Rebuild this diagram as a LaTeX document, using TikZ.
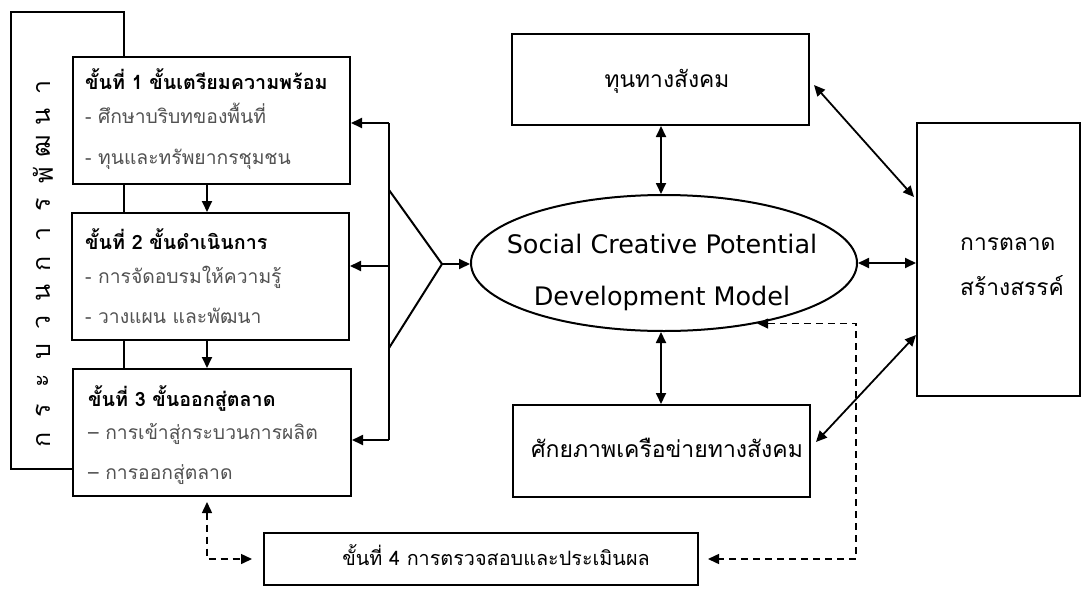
\documentclass[tikz,border=0pt]{standalone}
\usepackage{fontspec}
\setmainfont[Script=Thai]{Loma}
\newfontfamily\engfont{DejaVu Sans}
\usetikzlibrary{arrows.meta,shapes.geometric}
\begin{document}
\begin{tikzpicture}[x=1pt,y=-1pt,
  box/.style={draw,line width=2pt,fill=white,inner sep=0pt},
  tip/.tip={Triangle[length=11pt,width=10pt]},
  arr/.style={line width=1.8pt,-tip},
  darr/.style={line width=1.8pt,tip-tip},
  dsh/.style={line width=1.5pt,dash pattern=on 7pt off 5pt,tip-tip},
  head/.style={font=\bfseries\fontsize{19.7}{22}\selectfont,anchor=base west,inner sep=0pt},
  itm/.style={font=\fontsize{19.3}{22}\selectfont,text=black!68,anchor=base west,inner sep=0pt},
  lbl/.style={font=\fontsize{22.8}{26}\selectfont,inner sep=0pt,anchor=base},
  vert/.style={font=\fontsize{25}{28}\selectfont,rotate=90,inner sep=0pt},
  eng/.style={font=\engfont\fontsize{25.5}{28}\selectfont,inner sep=0pt,anchor=base},
]
\useasboundingbox (0,0) rectangle (1083,589);
% outer left frame
\node[box,minimum width=113pt,minimum height=457pt] (outer) at (67.5,240.5) {};
\foreach \c [count=\i] in {ก,ร,ะ,บ,ว,น,ก,า,ร,พั,ฒ,น,า}
  \node[vert] (v\i) at (43,{440-(\i-1)*29.4}) {\c};
% step boxes
\node[box,minimum width=277pt,minimum height=127pt] (s1) at (211.5,120.5) {};
\node[box,minimum width=277pt,minimum height=127pt] (s2) at (210.5,276.5) {};
\node[box,minimum width=278pt,minimum height=127pt] (s3) at (212,432.5) {};
\node[head] (s1h) at (85,89) {ขั้นที่ 1 ขั้นเตรียมความพร้อม};
\node[itm] (s1a) at (85,123) {- ศึกษาบริบทของพื้นที่};
\node[itm] (s1b) at (85,164) {- ทุนและทรัพยากรชุมชน};
\node[head] (s2h) at (85,249) {ขั้นที่ 2 ขั้นดำเนินการ};
\node[itm] (s2a) at (85,283) {- การจัดอบรมให้ความรู้};
\node[itm] (s2b) at (85,323) {- วางแผน และพัฒนา};
\node[head] (s3h) at (88,406) {ขั้นที่ 3 ขั้นออกสู่ตลาด};
\node[itm] (s3a) at (88,439) {– การเข้าสู่กระบวนการผลิต};
\node[itm] (s3b) at (88,479) {– การออกสู่ตลาด};
% central and right nodes
\node[draw,ellipse,line width=2pt,minimum width=386pt,minimum height=136pt,inner sep=0pt] (ell) at (664,263) {};
\node[eng] (e1) at (662,253) {Social Creative Potential};
\node[eng] (e2) at (662,305) {Development Model};
\node[box,minimum width=297pt,minimum height=91pt] (tb) at (660.5,79.5) {};
\node[lbl] (tbt) at (667,87) {ทุนทางสังคม};
\node[box,minimum width=297pt,minimum height=92pt] (bb) at (661.5,451) {};
\node[lbl,font=\fontsize{23}{26}\selectfont] (bbt) at (667,457) {ศักยภาพเครือข่ายทางสังคม};
\node[box,minimum width=163pt,minimum height=273pt] (mk) at (998.5,259.5) {};
\node[lbl,anchor=base west] (mk1) at (960,250) {การตลาด};
\node[lbl,anchor=base west] (mk2) at (960,295) {สร้างสรรค์};
\node[box,minimum width=434pt,minimum height=52pt] (b4) at (481,559) {};
\node[lbl,font=\fontsize{19.8}{22}\selectfont] (b4t) at (496,565) {ขั้นที่ 4 การตรวจสอบและประเมินผล};
% helper coordinates
\coordinate (ax) at (207,0);
\coordinate (cx) at (661,0);
\coordinate (dv) at (856,0);
\coordinate (q1) at (389,123);
\coordinate (q2) at (389,266);
\coordinate (q3) at (389,440);
\coordinate (t1) at (389,190);
\coordinate (tp) at (442,264);
\coordinate (t2) at (389,348);
% step flow
\draw[arr] (s1.south -| ax) -- (s2.north -| ax);
\draw[arr] (s2.south -| ax) -- (s3.north -| ax);
% bracket
\draw[line width=2pt] (q1) -- (q3);
\draw[arr] (q1) -- (q1 -| s1.east);
\draw[arr] (q2) -- (q2 -| s2.east);
\draw[arr] (q3) -- (q3 -| s3.east);
\draw[line width=2pt,line join=miter] (t1) -- (tp) -- (t2);
\draw[arr] (tp) -- (tp -| ell.west);
% model connections
\draw[darr] (tb.south -| cx) -- (ell.north -| cx);
\draw[darr] (ell.south -| cx) -- (bb.north -| cx);
\draw[darr] (ell.east) -- (ell.east -| mk.west);
\draw[darr] ([xshift=4pt,yshift=-5.5pt]tb.east) -- ([xshift=-2pt,yshift=62.5pt]mk.west);
\draw[darr] ([xshift=5pt,yshift=9pt]bb.east) -- ([yshift=-75.5pt]mk.west);
% evaluation loops
\draw[dsh] (ell.-33) -- (ell.-33 -| dv) -- (dv |- b4.east) -- ([xshift=9pt]b4.east);
\draw[dsh] ([yshift=-5pt]s3.south -| ax) -- (ax |- b4.west) -- ([xshift=-11pt]b4.west);
\end{tikzpicture}
\end{document}
